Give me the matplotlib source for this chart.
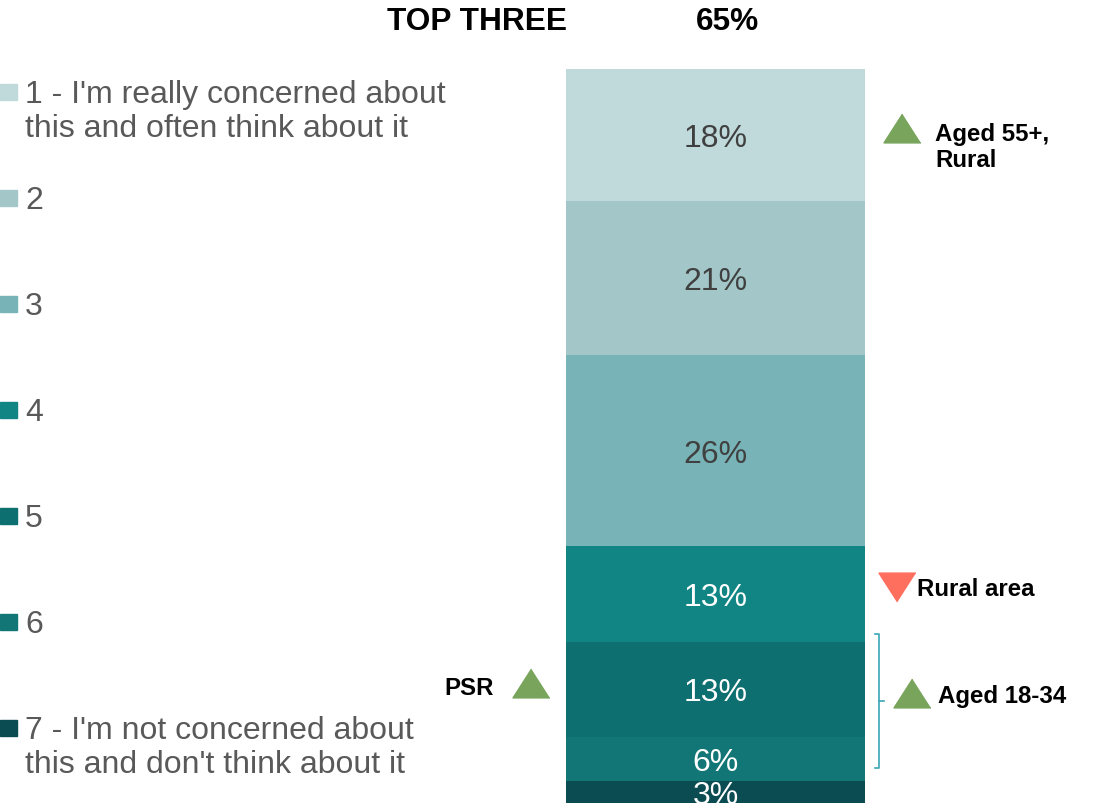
import matplotlib
matplotlib.use("Agg")
import matplotlib.pyplot as plt
from matplotlib.patches import Rectangle

plt.rcParams['font.family'] = ['Liberation Sans', 'DejaVu Sans']

# data
categories = ["1 - I'm really concerned about\nthis and often think about it",
              "2", "3", "4", "5", "6",
              "7 - I'm not concerned about\nthis and don't think about it"]
values = [18, 21, 26, 13, 13, 6, 3]
colors = ['#c0d9db', '#a3c7c9', '#78b4b7', '#118484', '#0e6f70', '#137676', '#0b4b52']
label_colors = ['#404040', '#404040', '#404040', 'white', 'white', 'white', 'white']

# significance markers: (x, y, text, up?, text x, text y, ha)
marks = [
    (0.624, 8.0, "Aged 55+,\nRural", True, 0.734, 10.6, 'left'),
    (0.607, 70.6, "Rural area", False, 0.674, 70.8, 'left'),
    (-0.617, 83.6, "PSR", True, -0.741, 84.2, 'right'),
    (0.657, 85.0, "Aged 18-34", True, 0.744, 85.3, 'left'),
]

W, H = 1094, 804
fig = plt.figure(figsize=(W / 100, H / 100), dpi=100)
ax = fig.add_axes([566 / W, 0, 299 / W, 734 / H])
ax.set_xlim(-0.5, 0.5)
ax.set_ylim(100, 0)
ax.axis('off')

bottom = 0
for v, c, lc in zip(values, colors, label_colors):
    ax.bar(0, v, bottom=bottom, width=1.0, color=c, linewidth=0)
    ax.text(0, bottom + v / 2 + 0.4, f"{v}%", ha='center', va='center',
            fontsize=23, color=lc, clip_on=False)
    bottom += v

up = [(0, 0.39), (-0.5, -0.39), (0.5, -0.39)]
down = [(0, -0.39), (-0.5, 0.39), (0.5, 0.39)]
for x, y, txt, is_up, tx, ty, ha in marks:
    ax.plot([x], [y], marker=up if is_up else down, markersize=26.6,
            color='#78a45c' if is_up else '#ff6f5e', linestyle='none',
            clip_on=False)
    ax.text(tx, ty, txt, ha=ha, va='center', fontsize=17.3,
            fontweight='bold', color='black', clip_on=False, linespacing=1.15)

# bracket next to segments 5-6
bx, y0, y1 = 0.547, 77.0, 95.2
ax.plot([bx - 0.013, bx, bx, bx - 0.013], [y0, y0, y1, y1], color='#3aa6b5',
        lw=1.2, clip_on=False)
ax.plot([bx, bx + 0.017], [(y0 + y1) / 2] * 2, color='#3aa6b5', lw=1.2,
        clip_on=False)

# header
fig.text(477 / W, 1 - 22 / H, "TOP THREE", ha='center', va='center',
         fontsize=22.8, fontweight='bold')
fig.text(727 / W, 1 - 22 / H, f"{sum(values[:3])}%", ha='center', va='center',
         fontsize=22.8, fontweight='bold')

# legend
for i, (cat, c) in enumerate(zip(categories, colors)):
    yc = 93 + i * 106
    fig.patches.append(Rectangle((0, 1 - (yc + 8) / H), 17 / W, 16 / H,
                                 transform=fig.transFigure, color=c))
    fig.text(25 / W, 1 - (yc - 13) / H, cat, ha='left', va='top',
             fontsize=23, color='#595959', linespacing=1.17)

fig.savefig('out.png', dpi=100)
